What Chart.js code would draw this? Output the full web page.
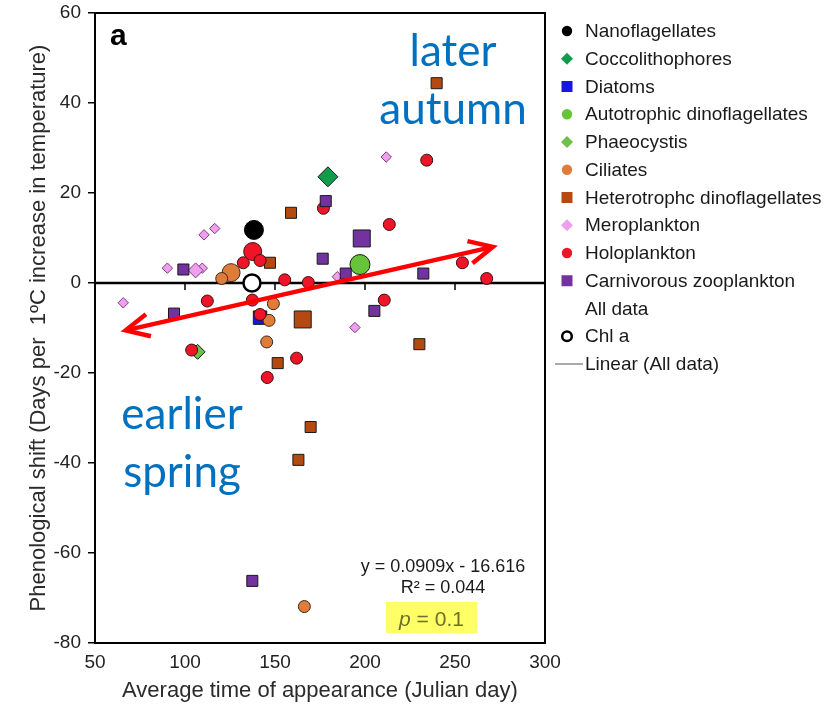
<!DOCTYPE html>
<html>
<head>
<meta charset="utf-8">
<title>Phenological shift vs. average time of appearance</title>
<script src="https://cdn.jsdelivr.net/npm/chart.js@4.4.1/dist/chart.umd.min.js"></script>
<style>
  html, body { margin: 0; padding: 0; background: #fff; }
  #wrap { position: relative; width: 827px; height: 709px; }
</style>
</head>
<body>
<div id="wrap"><canvas id="chart" width="827" height="709"></canvas></div>
<script>
// axis ticks
const xTicks = [50, 100, 150, 200, 250, 300];
const yTicks = [-80, -60, -40, -20, 0, 20, 40, 60];

// [average day of appearance, shift in days per 1ºC]
const nanoflagellates = [[138.3, 11.8]];
const coccolithophores = [[179.4, 23.6]];
const diatoms = [[141.7, -7.7]];
const autotrophicDinos = [[197.2, 4.1]];
const phaeocystis = [[107.0, -15.3]];
const ciliates = [[125.6, 2.3], [120.4, 1.0], [149.1, -4.6], [146.7, -8.3], [145.4, -13.1], [166.3, -71.9]];
const heteroDinos = [[239.8, 44.4], [158.9, 15.6], [147.2, 4.5], [165.4, -8.1], [151.5, -17.8],
  [230.2, -13.6], [169.8, -32.0], [163.0, -39.3]];
const meroplankton = [[65.7, -4.4], [90.2, 3.3], [109.6, 3.3], [105.9, 2.8], [110.6, 10.7],
  [116.5, 12.1], [211.8, 28.0], [184.6, 1.4], [194.4, -9.9]];
const holoplankton = [[137.6, 7.0], [132.4, 4.5], [141.7, 5.0], [155.4, 0.7], [168.5, 0.1],
  [176.9, 16.6], [234.3, 27.3], [213.5, 13.0], [254.1, 4.5], [267.6, 1.0], [210.7, -3.8],
  [112.4, -4.0], [137.4, -3.8], [141.7, -7.0], [103.7, -14.9], [162.0, -16.7], [145.7, -21.0]];
const carnivores = [[99.1, 3.0], [93.9, -6.8], [178.2, 18.2], [198.2, 9.9], [176.5, 5.4],
  [189.3, 2.1], [232.4, 2.1], [205.2, -6.2], [137.4, -66.2]];
const chlA = [[137.2, 0.0]];

// linear fit over all data
const trendSlope = 0.0909;
const trendIntercept = -16.616;
const trendR2 = 0.044;
const trendP = 0.1;
const trendRange = [67, 271];

Chart.defaults.font.family = "'Liberation Sans', Arial, sans-serif";
Chart.defaults.color = '#222';

// series styles; "big" lists the indices drawn with the larger marker
const groups = [
  { label: 'Nanoflagellates', points: nanoflagellates, shape: 'circle', fill: '#000000', edge: '#000000', r: 5.5, bigR: 9.5, big: [0] },
  { label: 'Coccolithophores', points: coccolithophores, shape: 'rectRot', fill: '#109c4a', edge: '#1a1a1a', r: 6, bigR: 10, big: [0] },
  { label: 'Diatoms', points: diatoms, shape: 'rect', fill: '#1515e6', edge: '#1a1a1a', r: 9.5, big: [] },
  { label: 'Autotrophic dinoflagellates', points: autotrophicDinos, shape: 'circle', fill: '#66c43a', edge: '#1a1a1a', r: 5.5, bigR: 10, big: [0] },
  { label: 'Phaeocystis', points: phaeocystis, shape: 'rectRot', fill: '#6ec04a', edge: '#1a1a1a', r: 7.5, big: [] },
  { label: 'Ciliates', points: ciliates, shape: 'circle', fill: '#e07c3a', edge: '#3a2a1a', r: 6, bigR: 9, big: [0] },
  { label: 'Heterotrophc dinoflagellates', points: heteroDinos, shape: 'rect', fill: '#b44a10', edge: '#1a1a1a', r: 7.8, bigR: 12, big: [3] },
  { label: 'Meroplankton', points: meroplankton, shape: 'rectRot', fill: '#f09ef0', edge: '#7a3f7a', r: 5.2, bigR: 7.5, big: [3] },
  { label: 'Holoplankton', points: holoplankton, shape: 'circle', fill: '#ee1528', edge: '#3a1010', r: 6, bigR: 9, big: [0] },
  { label: 'Carnivorous zooplankton', points: carnivores, shape: 'rect', fill: '#7232a0', edge: '#1a1a1a', r: 7.8, bigR: 12, big: [3] },
  { label: 'Chl a', points: chlA, shape: 'circle', fill: '#ffffff', edge: '#000000', edgeWidth: 2.5, r: 8.5, big: [] }
];

const datasets = groups.map((g, i) => ({
  label: g.label,
  data: g.points.map(p => ({ x: p[0], y: p[1] })),
  pointStyle: g.shape,
  pointRadius: g.points.map((p, j) => g.big.includes(j) ? g.bigR : g.r),
  backgroundColor: g.fill,
  borderColor: g.edge,
  borderWidth: g.edgeWidth || 1,
  order: groups.length - i + 1
}));

// trend line, drawn on top of everything
datasets.push({
  type: 'line',
  label: 'Linear (All data)',
  data: trendRange.map(x => ({ x: x, y: trendSlope * x + trendIntercept })),
  borderColor: '#ff0000',
  borderWidth: 4.5,
  pointRadius: 0,
  fill: false,
  order: 0
});
const trendIndex = datasets.length - 1;

// plot frame, zero line and the x tick marks that hang from it
const framePlugin = {
  id: 'frame',
  beforeDatasetsDraw(chart) {
    const { ctx, chartArea: a, scales } = chart;
    const y0 = scales.y.getPixelForValue(0);
    ctx.save();
    ctx.strokeStyle = '#000';
    ctx.lineWidth = 2.5;
    ctx.beginPath();
    ctx.moveTo(a.left, y0);
    ctx.lineTo(a.right, y0);
    ctx.stroke();
    ctx.lineWidth = 1.5;
    ctx.beginPath();
    xTicks.forEach(v => {
      const px = scales.x.getPixelForValue(v);
      ctx.moveTo(px, y0);
      ctx.lineTo(px, y0 + 7);
    });
    ctx.stroke();
    ctx.lineWidth = 2;
    ctx.strokeRect(a.left, a.top, a.right - a.left, a.bottom - a.top);
    ctx.restore();
  }
};

function drawBarbs(ctx, x, y, ang) {
  const len = 26;
  ctx.beginPath();
  ctx.moveTo(x + len * Math.cos(ang + Math.PI - 0.45), y + len * Math.sin(ang + Math.PI - 0.45));
  ctx.lineTo(x, y);
  ctx.lineTo(x + len * Math.cos(ang + Math.PI + 0.45), y + len * Math.sin(ang + Math.PI + 0.45));
  ctx.stroke();
}

const arrowPlugin = {
  id: 'arrowHeads',
  afterDatasetsDraw(chart) {
    const pts = chart.getDatasetMeta(trendIndex).data;
    if (pts.length < 2) return;
    const p0 = pts[0], p1 = pts[pts.length - 1];
    const ang = Math.atan2(p1.y - p0.y, p1.x - p0.x);
    const ctx = chart.ctx;
    ctx.save();
    ctx.strokeStyle = '#ff0000';
    ctx.lineWidth = 4.5;
    ctx.lineJoin = 'miter';
    drawBarbs(ctx, p1.x, p1.y, ang);
    drawBarbs(ctx, p0.x, p0.y, ang + Math.PI);
    ctx.restore();
  }
};

function legendMarker(ctx, shape, x, y, fill) {
  ctx.fillStyle = fill;
  ctx.beginPath();
  if (shape === 'circle') {
    ctx.arc(x, y, 5.2, 0, Math.PI * 2);
  } else if (shape === 'rect') {
    ctx.rect(x - 5.5, y - 5.5, 11, 11);
  } else if (shape === 'rectRot') {
    ctx.moveTo(x - 6, y);
    ctx.lineTo(x, y - 6);
    ctx.lineTo(x + 6, y);
    ctx.lineTo(x, y + 6);
    ctx.closePath();
  }
  ctx.fill();
}

// legend, annotations and the fit statistics
const notesPlugin = {
  id: 'notes',
  afterDraw(chart) {
    const ctx = chart.ctx;
    ctx.save();

    // legend
    const rows = groups.slice(0, 10).map(g => ({ label: g.label, shape: g.shape, fill: g.fill }));
    rows.push({ label: 'All data' });
    rows.push({ label: 'Chl a', shape: 'open' });
    rows.push({ label: 'Linear (All data)', shape: 'line' });
    ctx.font = "19px 'Liberation Sans', Arial, sans-serif";
    ctx.textBaseline = 'middle';
    ctx.textAlign = 'left';
    rows.forEach((row, i) => {
      const y = 31 + i * 27.75;
      if (row.shape === 'open') {
        ctx.strokeStyle = '#000';
        ctx.lineWidth = 2.5;
        ctx.beginPath();
        ctx.arc(567, y, 4.8, 0, Math.PI * 2);
        ctx.stroke();
      } else if (row.shape === 'line') {
        ctx.strokeStyle = '#8c8c8c';
        ctx.lineWidth = 1.5;
        ctx.beginPath();
        ctx.moveTo(555, y);
        ctx.lineTo(583, y);
        ctx.stroke();
      } else if (row.shape) {
        legendMarker(ctx, row.shape, 567, y, row.fill);
      }
      ctx.fillStyle = '#1a1a1a';
      ctx.fillText(row.label, 585, y + 1);
    });

    // panel letter
    ctx.fillStyle = '#000';
    ctx.font = "bold 30px 'Liberation Sans', Arial, sans-serif";
    ctx.textBaseline = 'alphabetic';
    ctx.fillText('a', 110, 45);

    // direction notes
    ctx.fillStyle = '#0070c0';
    ctx.font = "44px Lato, 'Open Sans', sans-serif";
    ctx.textAlign = 'center';
    ctx.fillText('later', 453, 66);
    ctx.fillText('autumn', 453, 124);
    ctx.fillText('earlier', 182, 429);
    ctx.fillText('spring', 182, 487);

    // fit statistics
    ctx.fillStyle = '#1a1a1a';
    ctx.font = "18px 'Liberation Sans', Arial, sans-serif";
    ctx.fillText('y = ' + trendSlope.toFixed(4) + 'x - ' + Math.abs(trendIntercept).toFixed(3), 443, 572);
    ctx.fillText('R\u00b2 = ' + trendR2.toFixed(3), 443, 593);

    ctx.fillStyle = '#ffff66';
    ctx.fillRect(386, 602, 91, 31);
    const pFont = "italic 21px 'Liberation Sans', Arial, sans-serif";
    const restFont = "21px 'Liberation Sans', Arial, sans-serif";
    const rest = ' = ' + trendP;
    ctx.font = pFont;
    const wp = ctx.measureText('p').width;
    ctx.font = restFont;
    const wr = ctx.measureText(rest).width;
    const startX = 431.5 - (wp + wr) / 2;
    ctx.textAlign = 'left';
    ctx.fillStyle = '#6f6f2a';
    ctx.font = pFont;
    ctx.fillText('p', startX, 626);
    ctx.font = restFont;
    ctx.fillText(rest, startX + wp, 626);

    ctx.restore();
  }
};

new Chart(document.getElementById('chart'), {
  type: 'scatter',
  data: { datasets: datasets },
  options: {
    responsive: false,
    animation: false,
    events: [],
    layout: { padding: { left: 0, right: 282, top: 12, bottom: 0 } },
    plugins: {
      legend: { display: false },
      tooltip: { enabled: false }
    },
    scales: {
      x: {
        type: 'linear',
        min: xTicks[0],
        max: xTicks[xTicks.length - 1],
        afterBuildTicks: s => { s.ticks = xTicks.map(v => ({ value: v })); },
        afterFit: s => { s.height = 66; },
        grid: { display: false, drawTicks: false },
        border: { display: false },
        ticks: { color: '#222', font: { size: 19 }, padding: 8, maxRotation: 0 },
        title: {
          display: true,
          text: 'Average time of appearance (Julian day)',
          color: '#2b2b2b',
          font: { size: 22 },
          padding: { top: 5, bottom: 5 }
        }
      },
      y: {
        type: 'linear',
        min: yTicks[0],
        max: yTicks[yTicks.length - 1],
        afterBuildTicks: s => { s.ticks = yTicks.map(v => ({ value: v })); },
        // keep the plot top fixed; the "60" label fits in the layout padding
        afterFit: s => { s.width = 95; s.paddingTop = 0; s.paddingBottom = 0; },
        grid: { drawOnChartArea: false, tickLength: 7, color: '#000', lineWidth: 1.5 },
        border: { display: false },
        ticks: { color: '#222', font: { size: 19 }, padding: 7 },
        title: {
          display: true,
          text: 'Phenological shift (Days per  1ºC increase in temperature)',
          color: '#2b2b2b',
          font: { size: 22 },
          padding: { top: 26, bottom: 26 }
        }
      }
    }
  },
  plugins: [framePlugin, arrowPlugin, notesPlugin]
});
</script>
</body>
</html>
